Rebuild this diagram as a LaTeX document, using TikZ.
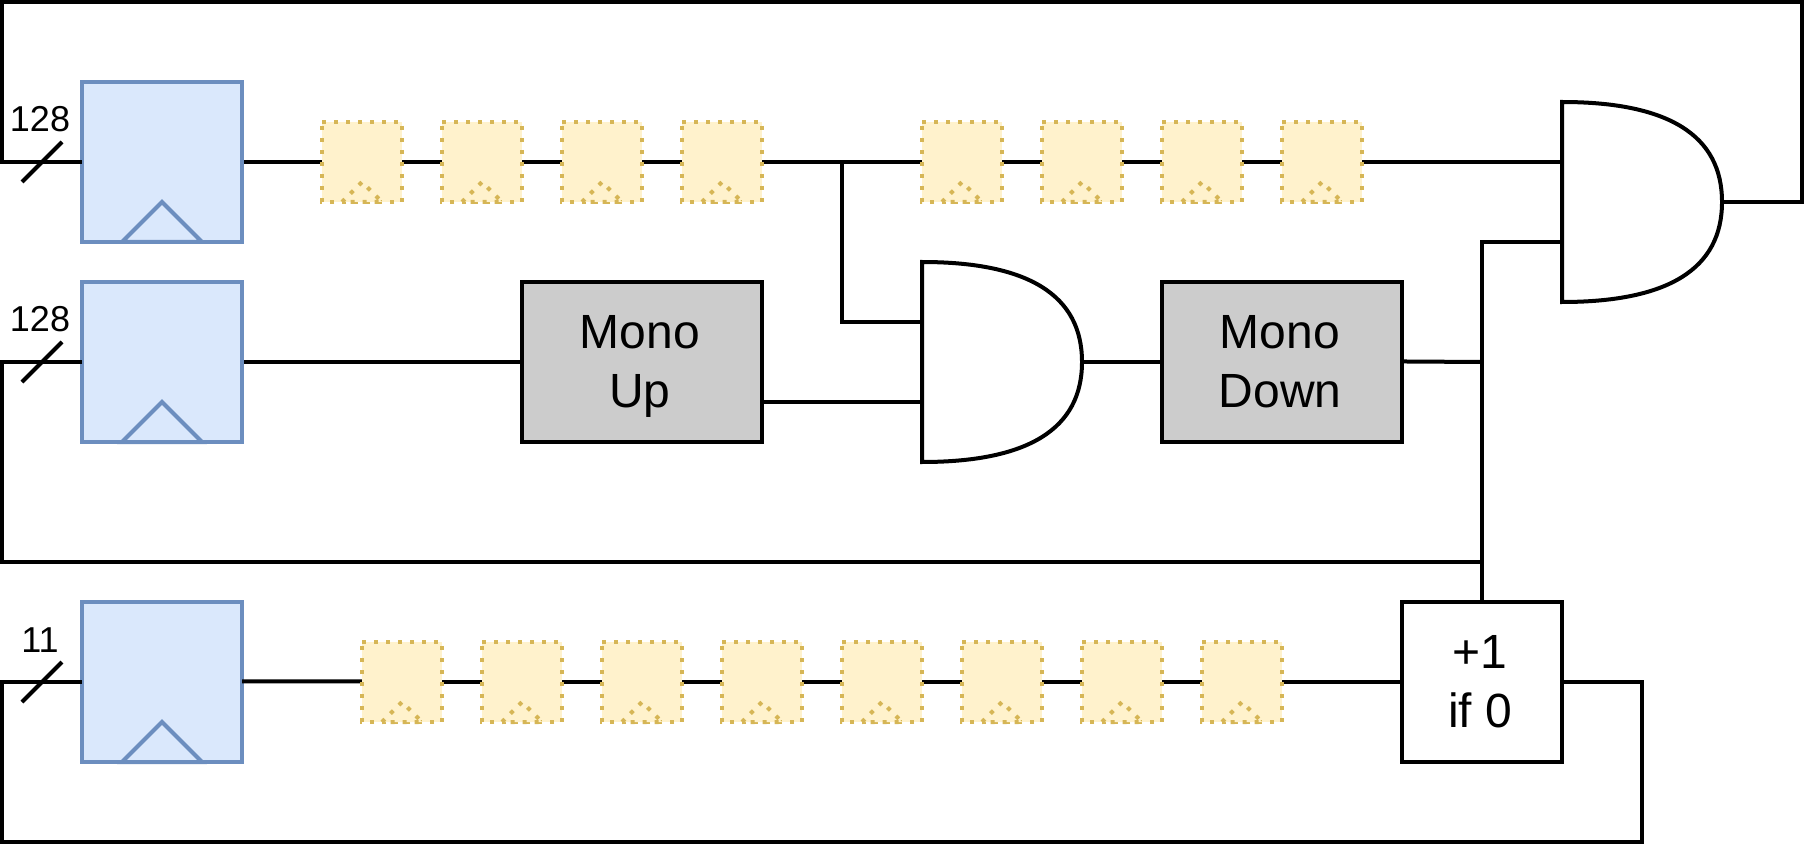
\documentclass[tikz,border=0pt]{standalone}
\usepackage{fontspec}
\setmainfont{Liberation Sans}
\usetikzlibrary{backgrounds,calc}
\pgfdeclarelayer{front}
\pgfsetlayers{background,main,front}
\definecolor{regfill}{HTML}{DAE8FC}
\definecolor{regline}{HTML}{6C8EBF}
\definecolor{dlyfill}{HTML}{FFF2CC}
\definecolor{dlyline}{HTML}{D6B656}
\definecolor{monofill}{HTML}{CCCCCC}
\newcommand{\shl}{\hspace*{3pt}}
\tikzset{
  every node/.style={outer sep=0pt,inner sep=0pt},
  wire/.style={draw=black,line width=3pt,line join=miter},
  regbox/.style={draw=regline,fill=regfill,line width=3pt,minimum width=120pt,minimum height=120pt},
  clk/.style={draw=regline,fill=regfill,line width=3pt,line join=miter},
  dlybox/.style={fill=dlyfill,minimum width=60pt,minimum height=60pt},
  dlydraw/.style={draw=dlyline,line width=3pt,dash pattern=on 3pt off 6pt},
  monobox/.style={draw=black,fill=monofill,line width=3pt,minimum width=180pt,minimum height=120pt,
     font=\fontsize{36pt}{44.5pt}\selectfont,align=center},
  incbox/.style={draw=black,fill=white,line width=3pt,minimum width=120pt,minimum height=120pt,
     font=\fontsize{36pt}{44.5pt}\selectfont,align=center},
  gatebox/.style={minimum width=120pt,minimum height=150pt},
  gateshape/.style={draw=black,fill=white,line width=3pt,line join=miter},
  buslabel/.style={font=\fontsize{27pt}{32pt}\selectfont,anchor=base},
}
\newcommand{\clockmark}[1]{%
  \draw[clk] ($(#1.south)+(-30pt,0)$) -- ($(#1.south)+(0,30pt)$) -- ($(#1.south)+(30pt,0)$) -- cycle;}
\newcommand{\dly}[2]{%
  \node[dlybox] (#1) at (#2) {};
  \draw[dlydraw] (#1.north west) -- (#1.north east) -- (#1.south east) -- (#1.south west) -- cycle;
  \draw[dlydraw,fill=dlyfill] ($(#1.south)+(-15pt,0)$) -- ($(#1.south)+(0,15pt)$) -- ($(#1.south)+(15pt,0)$) -- cycle;}
\newcommand{\andshape}[1]{%
  \draw[gateshape] (#1.north west)
    .. controls ($(#1.north west)!0.6667!(#1.north east)$) and ($(#1.east)!0.6667!(#1.north east)$) .. (#1.east)
    .. controls ($(#1.east)!0.6667!(#1.south east)$) and ($(#1.south west)!0.6667!(#1.south east)$) .. (#1.south west)
    -- cycle;}
\begin{document}
\begin{tikzpicture}[x=0.75pt,y=-0.75pt]
\useasboundingbox (0,0) rectangle (1808,848);
\node[regbox] (r1) at (162,162) {};
\node[regbox] (r2) at (162,362) {};
\node[regbox] (r3) at (162,682) {};
\clockmark{r1}\clockmark{r2}\clockmark{r3}
\begin{pgfonlayer}{front}
\dly{a1}{362,162}\dly{a2}{482,162}\dly{a3}{602,162}\dly{a4}{722,162}
\dly{a5}{962,162}\dly{a6}{1082,162}\dly{a7}{1202,162}\dly{a8}{1322,162}
\dly{b1}{402,682}\dly{b2}{522,682}\dly{b3}{642,682}\dly{b4}{762,682}
\dly{b5}{882,682}\dly{b6}{1002,682}\dly{b7}{1122,682}\dly{b8}{1242,682}
\end{pgfonlayer}
\node[monobox] (up) at (642,362) {Mono\shl\\U\smash{p}\shl};
\node[monobox] (down) at (1282,362) {Mono\shl\\Down\shl};
\node[incbox] (inc) at (1482,682) {+1\shl\\if 0\shl};
\node[gatebox] (g1) at (1002,362) {};
\node[gatebox] (g2) at (1642,202) {};
\andshape{g1}\andshape{g2}
\coordinate (j1) at (842,162);
\coordinate (j2) at (1482,362);
\coordinate (j3) at (1482,562);
\begin{pgfonlayer}{background}
\draw[wire] (r1.east) -- (a1.west);
\foreach \p/\q in {a1/a2,a2/a3,a3/a4,a5/a6,a6/a7,a7/a8,b1/b2,b2/b3,b3/b4,b4/b5,b5/b6,b6/b7,b7/b8}
  \draw[wire] (\p.east) -- (\q.west);
\draw[wire] (a4.east) -- (j1) -- (a5.west);
\draw[wire] (a8.east) -- (g2.west |- a8.east);
\draw[wire] (j1) |- (g1.west |- 0,322);
\draw[wire] (r2.east) -- (up.west);
\draw[wire] (up.east |- 0,402) -- (g1.west |- 0,402);
\draw[wire] (g1.east) -- (down.west);
\draw[wire] ($(down.east)+(0,0.4pt)$) -- (j2);
\draw[wire] (inc.north) -- (j3) -- (j2) |- (g2.west |- 0,242);
\draw[wire] (b8.east) -- (inc.west);
\end{pgfonlayer}
\draw[wire] ($(r3.east)+(0,0.5pt)$) -- (b1.west |- 0,681.3);
\draw[wire] (g2.east) -| (1802,2) -| (2,162) -- (r1.west);
\draw[wire] (r2.west) -| (2,562) -- (j3);
\draw[wire] (inc.east) -| (1642,842) -| (2,682) -- (r3.west);
\coordinate (s1a) at (22,182); \coordinate (s1b) at (62,142);
\coordinate (s2a) at (22,382); \coordinate (s2b) at (62,342);
\coordinate (s3a) at (22,702); \coordinate (s3b) at (62,662);
\draw[wire] (s1a) -- (s1b);
\draw[wire] (s2a) -- (s2b);
\draw[wire] (s3a) -- (s3b);
\node[buslabel] (l1) at (40,132) {128};
\node[buslabel] (l2) at (40,332) {128};
\node[buslabel] (l3) at (40,652) {11};
\end{tikzpicture}
\end{document}
